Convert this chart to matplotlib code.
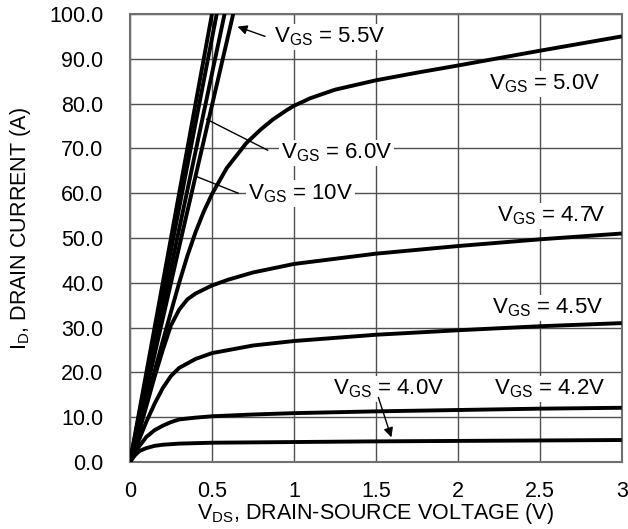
import matplotlib
matplotlib.use("Agg")
import matplotlib.pyplot as plt

plt.rcParams['font.family'] = ['Liberation Sans', 'DejaVu Sans']
plt.rcParams['mathtext.default'] = 'regular'

# output characteristics
vds_40 = [0, 0.03, 0.06, 0.1, 0.15, 0.2, 0.3, 0.5, 1.0, 1.5, 2.0, 2.5, 3.0]
id_40 = [0, 1.5, 2.5, 3.1, 3.6, 3.85, 4.1, 4.3, 4.45, 4.6, 4.7, 4.8, 4.9]

vds_42 = [0, 0.05, 0.1, 0.15, 0.2, 0.25, 0.3, 0.4, 0.5, 0.75, 1.0, 1.5, 2.0, 2.5, 3.0]
id_42 = [0, 3.2, 5.6, 7.1, 8.1, 8.9, 9.5, 9.9, 10.2, 10.6, 10.9, 11.3, 11.6, 11.9, 12.1]

vds_45 = [0, 0.05, 0.1, 0.15, 0.2, 0.25, 0.3, 0.4, 0.5, 0.75, 1.0, 1.5, 2.0, 2.5, 3.0]
id_45 = [0, 4.5, 9, 13, 16.5, 19.2, 21.0, 23.0, 24.3, 26.0, 27.0, 28.4, 29.4, 30.3, 31.0]

vds_47 = [0, 0.05, 0.1, 0.15, 0.2, 0.25, 0.3, 0.35, 0.4, 0.5, 0.6, 0.75, 1.0, 1.5,
          2.0, 2.5, 3.0]
id_47 = [0, 6, 12.5, 19, 25, 30.5, 34, 36.3, 37.6, 39.4, 40.7, 42.3, 44.2, 46.5,
         48.2, 49.7, 51]

vds_50 = [0, 0.1, 0.2, 0.3, 0.35, 0.4, 0.45, 0.5, 0.59, 0.71, 0.8, 0.87, 0.95, 1.0,
          1.1, 1.25, 1.5, 1.75, 2.0, 2.5, 3.0]
id_50 = [0, 13.5, 27, 40, 46, 51.3, 55.9, 59.8, 65.6, 71.2, 74.3, 76.4, 78.4, 79.5,
         81.2, 83.1, 85.2, 86.9, 88.5, 91.8, 95]

# the steep (linear region) curves
vds_10 = [0, 0.26, 0.52]
id_10 = [0, 52, 104]
vds_8 = [0, 0.275, 0.55]
id_8 = [0, 52, 104]
vds_60 = [0, 0.30, 0.60]
id_60 = [0, 52, 104]
vds_55 = [0, 0.325, 0.655]
id_55 = [0, 52, 104]

fig = plt.figure(figsize=(6.28, 5.29), dpi=100)
ax = fig.add_axes([0.207, 0.1267, 0.783, 0.8468])

lw = 2.8
for xs, ys in [(vds_40, id_40), (vds_42, id_42), (vds_45, id_45), (vds_47, id_47),
               (vds_50, id_50), (vds_10, id_10), (vds_8, id_8), (vds_60, id_60),
               (vds_55, id_55)]:
    ax.plot(xs, ys, color="k", lw=lw, solid_capstyle="butt",
            solid_joinstyle="round", zorder=3)

ax.set_xlim(0, 3)
ax.set_ylim(0, 100)
ax.set_xticks([0, 0.5, 1, 1.5, 2, 2.5, 3])
ax.set_xticklabels(["0", "0.5", "1", "1.5", "2", "2.5", "3"])
ax.set_yticks(range(0, 101, 10))
ax.set_yticklabels(["%.1f" % v for v in range(0, 101, 10)])
ax.tick_params(axis="both", length=0, labelsize=15.5)
ax.tick_params(axis="x", pad=14)
ax.tick_params(axis="y", pad=19)
ax.grid(True, color="#505050", lw=1.0, zorder=1)
for s in ax.spines.values():
    s.set_color("#707070")
    s.set_linewidth(1.5)

ax.set_xlabel("V$_{DS}$, DRAIN-SOURCE VOLTAGE (V)", fontsize=15.5)
ax.set_ylabel("I$_{D}$, DRAIN CURRENT (A)", fontsize=15.5)
ax.xaxis.set_label_coords(0.5, -0.088)
ax.yaxis.set_label_coords(-0.197, 0.52)

box = dict(facecolor="white", edgecolor="none", pad=1.5)
tk = dict(fontsize=16, va="center", ha="left", bbox=box, zorder=4)

ax.annotate("", xy=(0.64, 97.4), xytext=(0.84, 94.8),
            arrowprops=dict(arrowstyle="-|>", color="k", lw=1.0, mutation_scale=14), zorder=4)
ax.text(0.88, 94.9, "V$_{GS}$ = 5.5V", **tk)

ax.plot([0.468, 0.84], [76.5, 69.6], color="k", lw=1.0, zorder=4)
ax.text(0.92, 69.0, "V$_{GS}$ = 6.0V", **tk)

ax.plot([0.407, 0.66], [63.7, 60.0], color="k", lw=1.0, zorder=4)
ax.text(0.72, 60.0, "V$_{GS}$ = 10V", **tk)

ax.text(2.19, 84.4, "V$_{GS}$ = 5.0V", **tk)
ax.text(2.24, 54.9, "V$_{GS}$ = 4.7V", **tk)
ax.text(2.21, 34.4, "V$_{GS}$ = 4.5V", **tk)
ax.text(1.24, 16.3, "V$_{GS}$ = 4.0V", **tk)
ax.text(2.22, 16.3, "V$_{GS}$ = 4.2V", **tk)

ax.annotate("", xy=(1.6, 4.9), xytext=(1.51, 15.0),
            arrowprops=dict(arrowstyle="-|>", color="k", lw=1.0, mutation_scale=14), zorder=4)

fig.savefig("out.png", dpi=100)
